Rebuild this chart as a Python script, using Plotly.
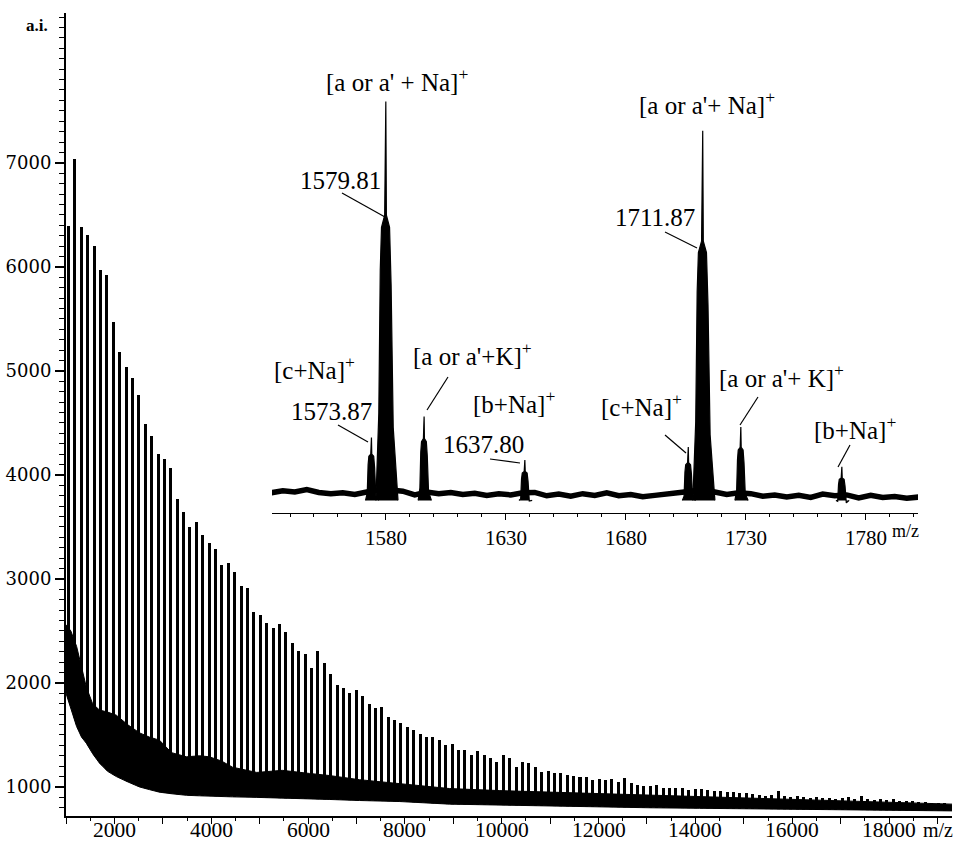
import plotly.graph_objects as go

# ---------------- main spectrum data ----------------
first_peak_mz = 1051.57      # first oligomer peak (m/z)
repeat_mz = 132.06           # pentose repeat unit (1711.87 - 1579.81)
peak_heights = [
    6390, 7040, 6385, 6310, 6200, 5970, 5920, 5470, 5180, 5040,
    4930, 4770, 4490, 4375, 4200, 4155, 4065, 3770, 3645, 3500,
    3550, 3425, 3345, 3290, 3135, 3155, 3065, 2935, 2915, 2685,
    2655, 2575, 2530, 2565, 2490, 2385, 2310, 2280, 2145, 2310,
    2190, 2085, 1980, 1950, 1905, 1935, 1875, 1800, 1760, 1770,
    1675, 1645, 1615, 1575, 1550, 1510, 1480, 1480, 1450, 1404,
    1413, 1356, 1356, 1308, 1346, 1308, 1279, 1240, 1308, 1279,
    1192, 1240, 1231, 1192, 1144, 1154, 1135, 1135, 1115, 1106,
    1096, 1096, 1067, 1077, 1067, 1077, 1048, 1087, 1038, 1019,
    1010, 1010, 1019, 990, 990, 990, 990, 971, 981, 985,
    975, 965, 960, 955, 950, 940, 940, 935, 925, 915,
    920, 965, 910, 905, 910, 900, 895, 905, 895, 890,
    885, 890, 900, 885, 910, 880, 875, 880, 875, 880,
    870, 870, 865, 860, 860, 850, 850, 845]
peak_mz = [first_peak_mz + repeat_mz * i for i in range(len(peak_heights))]

# noise band (baseline) of the main spectrum
band_mz = [1000, 1100, 1220, 1320, 1420, 1550, 1690, 1860, 2040, 2270, 2520, 2720,
           2930, 3180, 3490, 3760, 3960, 4210, 4440, 4940, 5470, 6030, 6440, 7060,
           7890, 8920, 9960, 10990, 12020, 13060, 14090, 15120, 16160, 17190, 18220, 19300]
band_low = [1900, 1750, 1580, 1480, 1420, 1320, 1230, 1150, 1100, 1050, 1000, 975,
            950, 935, 920, 915, 910, 908, 905, 900, 895, 890, 880, 870,
            860, 835, 825, 815, 808, 800, 795, 790, 785, 780, 775, 770]
band_high = [2560, 2500, 2350, 2150, 1960, 1800, 1740, 1720, 1690, 1600, 1520, 1480,
             1450, 1330, 1290, 1300, 1290, 1250, 1190, 1140, 1160, 1130, 1110, 1070,
             1030, 985, 965, 950, 935, 925, 910, 895, 880, 865, 850, 835]

main_x_ticks = list(range(1000, 19001, 1000))
main_x_label_vals = [2000, 4000, 6000, 8000, 10000, 12000, 14000, 16000, 18000]
main_y_ticks = [1000, 2000, 3000, 4000, 5000, 6000, 7000]
main_y_labels = ["1000", "2000", "3000", "4000", "5000", "6000", "7000"]

# ---------------- inset data ----------------
inset_peak_mz = [1573.87, 1579.81, 1595.81, 1637.80, 1705.90, 1711.87, 1727.80, 1769.90]
inset_peak_top = [18.0, 98.0, 23.0, 12.6, 15.7, 91.0, 20.5, 11.0]
inset_peak_body = [13.5, 68.0, 17.0, 9.5, 11.5, 62.0, 15.0, 8.0]
inset_peak_hw = [2.4, 4.0, 2.4, 2.4, 2.4, 4.0, 2.4, 2.4]

inset_base_mz = list(range(1532, 1803, 5))
inset_base_val = [4.8, 5.3, 5.0, 5.6, 4.9, 4.6, 4.8, 4.4, 5.0, 5.5,
                  5.5, 5.2, 4.3, 5.0, 4.6, 4.9, 4.4, 4.7, 4.2, 4.6,
                  4.3, 4.8, 4.9, 4.1, 4.5, 4.0, 4.6, 4.2, 4.8, 4.1,
                  4.4, 3.9, 4.2, 4.5, 4.9, 5.2, 5.5, 5.0, 4.4, 4.8,
                  4.6, 4.0, 4.3, 3.8, 4.2, 3.7, 4.5, 4.1, 4.3, 3.6,
                  4.2, 3.7, 3.9, 3.5, 3.8]
inset_ticks = [1580, 1630, 1680, 1730, 1780]

# ---------------- geometry helpers (pixel -> paper) ----------------
W, H = 956, 844
ML, MR, MT, MB = 66, 4, 13, 28
PW, PH = W - ML - MR, H - MT - MB


def px(x):
    return (x - ML) / PW


def py(y):
    return (H - MB - y) / PH


SERIF = "Liberation Serif, Times New Roman, serif"

fig = go.Figure()

# main spectrum: peaks
fig.add_trace(go.Bar(x=peak_mz, y=peak_heights, width=62,
                     marker=dict(color="black", line=dict(width=0)),
                     xaxis="x", yaxis="y", hoverinfo="skip"))
# white under the noise band
fig.add_trace(go.Scatter(x=band_mz, y=band_low, mode="lines", fill="tozeroy",
                         fillcolor="white", line=dict(width=0, color="white"),
                         xaxis="x", yaxis="y", hoverinfo="skip"))
# noise band
fig.add_trace(go.Scatter(x=band_mz, y=band_high, mode="lines",
                         line=dict(width=1, color="black"),
                         xaxis="x", yaxis="y", hoverinfo="skip"))
fig.add_trace(go.Scatter(x=band_mz, y=band_low, mode="lines", fill="tonexty",
                         fillcolor="black", line=dict(width=1, color="black"),
                         xaxis="x", yaxis="y", hoverinfo="skip"))

# inset baseline
fig.add_trace(go.Scatter(x=inset_base_mz, y=inset_base_val, mode="lines",
                         line=dict(width=5.5, color="black"),
                         xaxis="x2", yaxis="y2", hoverinfo="skip"))

# inset peaks as filled profiles (broad column with a sharp apex)
xs, ys = [], []
base_level = 3.0
for c, top, body, hw in zip(inset_peak_mz, inset_peak_top, inset_peak_body, inset_peak_hw):
    xs += [c - hw, c - 0.7 * hw, c - 0.55 * hw, c - 0.42 * hw, c - 0.09 * hw, c - 0.03 * hw,
           c + 0.03 * hw, c + 0.09 * hw, c + 0.42 * hw, c + 0.58 * hw, c + 0.8 * hw,
           c + 1.3 * hw, None]
    ys += [base_level, 0.35 * body, 0.85 * body, body, body + 0.03 * top, top,
           top, body + 0.03 * top, body, 0.8 * body, 0.3 * body,
           base_level, None]
fig.add_trace(go.Scatter(x=xs, y=ys, mode="lines", fill="toself", fillcolor="black",
                         line=dict(width=1.2, color="black"),
                         xaxis="x2", yaxis="y2", hoverinfo="skip"))

# ---------------- annotations ----------------
labels = [
    ("[a or a' + Na]<sup>+</sup>", 397, 80),
    ("1579.81", 340, 181),
    ("[a or a'+ Na]<sup>+</sup>", 707, 103),
    ("1711.87", 655, 217),
    ("[c+Na]<sup>+</sup>", 314, 368),
    ("1573.87", 331, 411),
    ("[a or a'+K]<sup>+</sup>", 472, 354),
    ("[b+Na]<sup>+</sup>", 514, 402),
    ("1637.80", 483, 445),
    ("[c+Na]<sup>+</sup>", 641, 405),
    ("[a or a'+ K]<sup>+</sup>", 781, 376),
    ("[b+Na]<sup>+</sup>", 855, 428),
]
annotations = []
for text, cx, cy in labels:
    annotations.append(dict(text=text, x=px(cx), y=py(cy), xref="paper", yref="paper",
                            showarrow=False, xanchor="center", yanchor="middle",
                            font=dict(family=SERIF, size=25, color="black")))
# main x tick labels
for v in main_x_label_vals:
    annotations.append(dict(text=str(v), x=v, y=py(830), xref="x", yref="paper",
                            showarrow=False, xanchor="center", yanchor="middle",
                            font=dict(family=SERIF, size=21.5, color="black")))
annotations.append(dict(text="<b>a.i.</b>", x=px(37), y=py(26), xref="paper", yref="paper",
                        showarrow=False, xanchor="center", yanchor="middle",
                        font=dict(family=SERIF, size=17, color="black")))
annotations.append(dict(text="m/z", x=px(938), y=py(830), xref="paper", yref="paper",
                        showarrow=False, xanchor="center", yanchor="middle",
                        font=dict(family=SERIF, size=20, color="black")))
annotations.append(dict(text="m/z", x=px(905), y=py(531), xref="paper", yref="paper",
                        showarrow=False, xanchor="center", yanchor="middle",
                        font=dict(family=SERIF, size=18, color="black")))

leaders = [((342, 193), (385, 217)), ((665, 232), (697, 248)), ((338, 425), (368, 442)),
           ((448, 377), (427, 410)), ((490, 459), (520, 463)), ((665, 435), (686, 453)),
           ((758, 397), (740, 425)), ((850, 445), (838, 467))]
shapes = []
for (x0, y0), (x1, y1) in leaders:
    shapes.append(dict(type="line", xref="paper", yref="paper",
                       x0=px(x0), y0=py(y0), x1=px(x1), y1=py(y1),
                       line=dict(color="black", width=1.2)))

fig.update_layout(
    width=W, height=H,
    margin=dict(l=ML, r=MR, t=MT, b=MB),
    paper_bgcolor="white", plot_bgcolor="white",
    showlegend=False,
    bargap=0,
    xaxis=dict(domain=[0, 1], range=[1000, 19300], anchor="y",
               showline=True, linecolor="black", linewidth=1.5, mirror=False,
               showgrid=False, zeroline=False, automargin=False,
               ticks="outside", ticklen=6, tickwidth=1.3, tickcolor="black",
               tickvals=main_x_ticks, showticklabels=False,
               minor=dict(dtick=500, tick0=1000, ticks="outside", ticklen=3,
                          tickwidth=1, tickcolor="black", showgrid=False)),
    yaxis=dict(domain=[0, 1], range=[721, 8440], anchor="x",
               showline=True, linecolor="black", linewidth=2,
               showgrid=False, zeroline=False, automargin=False,
               ticks="outside", ticklen=9, tickwidth=1.5, tickcolor="black",
               tickvals=main_y_ticks, ticktext=main_y_labels,
               minor=dict(dtick=100, tick0=0, ticks="outside", ticklen=5,
                          tickwidth=1.2, tickcolor="black", showgrid=False),
               tickfont=dict(family="DejaVu Serif, serif", size=18, color="black")),
    xaxis2=dict(domain=[px(272), px(918)], range=[1532.5, 1801.7], anchor="y2",
                showline=True, linecolor="black", linewidth=1.3,
                showgrid=False, zeroline=False, automargin=False,
                ticks="outside", ticklen=6, tickwidth=1, tickcolor="black",
                tickvals=inset_ticks,
                minor=dict(dtick=10, tick0=1530, ticks="outside", ticklen=3,
                           tickwidth=1, tickcolor="black", showgrid=False),
                tickfont=dict(family=SERIF, size=21, color="black")),
    yaxis2=dict(domain=[py(513), py(40)], range=[0, (513 - 40) / 4.2], anchor="x2",
                visible=False, showgrid=False, zeroline=False),
    annotations=annotations,
    shapes=shapes,
)

fig.write_html("out.html")
